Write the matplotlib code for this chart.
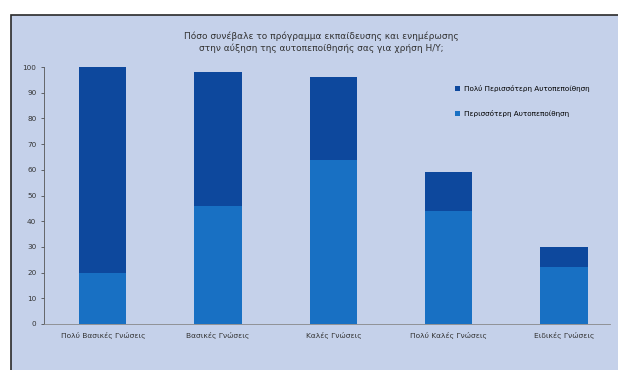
import matplotlib.pyplot as plt
from matplotlib.patches import Rectangle

# survey answers by prior knowledge level
categories = ["Πολύ Βασικές Γνώσεις", "Βασικές Γνώσεις", "Καλές Γνώσεις",
              "Πολύ Καλές Γνώσεις", "Ειδικές Γνώσεις"]
more_conf = [20, 46, 64, 44, 22]
much_more_conf = [80, 52, 32, 15, 8]
labels = ["Πολύ Περισσότερη Αυτοπεποίθηση", "Περισσότερη Αυτοπεποίθηση"]
title = ("Πόσο συνέβαλε το πρόγραμμα εκπαίδευσης και ενημέρωσης\n"
         "στην αύξηση της αυτοπεποίθησής σας για χρήση Η/Υ;")

bg = "#C5D1EA"
dark = "#0D489D"
light = "#1870C3"

fig = plt.figure(figsize=(6.18, 3.7), dpi=100)
fig.patch.set_facecolor("white")
frame = Rectangle((11 / 618, -0.01), 1.0, 1 - 15 / 370 + 0.01,
                  transform=fig.transFigure, facecolor=bg,
                  edgecolor="#2a2a2a", linewidth=1.2, zorder=-5)
fig.add_artist(frame)

ax = fig.add_axes([44 / 618, 46 / 370, 566 / 618, 257 / 370])
ax.set_facecolor("none")

x = list(range(len(categories)))
ax.bar(x, more_conf, width=0.41, color=light, label=labels[1], zorder=2)
ax.bar(x, much_more_conf, width=0.41, bottom=more_conf, color=dark,
       label=labels[0], zorder=2)

ax.set_xlim(-0.51, 4.4)
ax.set_ylim(0, 100)
ax.set_yticks(range(0, 101, 10))
ax.set_xticks(x)
ax.set_xticklabels(categories, fontsize=5.4, color="#333333")
ax.tick_params(axis="y", labelsize=5.2, length=2, width=0.5, colors="#333333")
ax.tick_params(axis="x", length=0, pad=6)
for s in ["top", "right"]:
    ax.spines[s].set_visible(False)
ax.spines["left"].set_color("#555555")
ax.spines["left"].set_linewidth(0.6)
ax.spines["bottom"].set_color("#888888")
ax.spines["bottom"].set_linewidth(0.6)

handles, labs = ax.get_legend_handles_labels()
ax.legend(handles[::-1], labs[::-1], loc="upper right",
          bbox_to_anchor=(0.975, 0.955), frameon=False, fontsize=5.2,
          labelspacing=2.5, handlelength=0.7, handleheight=0.7,
          handletextpad=0.5)

fig.text(0.52, 0.885, title, ha="center", va="center", fontsize=6.5,
         color="#333333", linespacing=1.3)

fig.savefig("out.png", dpi=100)
